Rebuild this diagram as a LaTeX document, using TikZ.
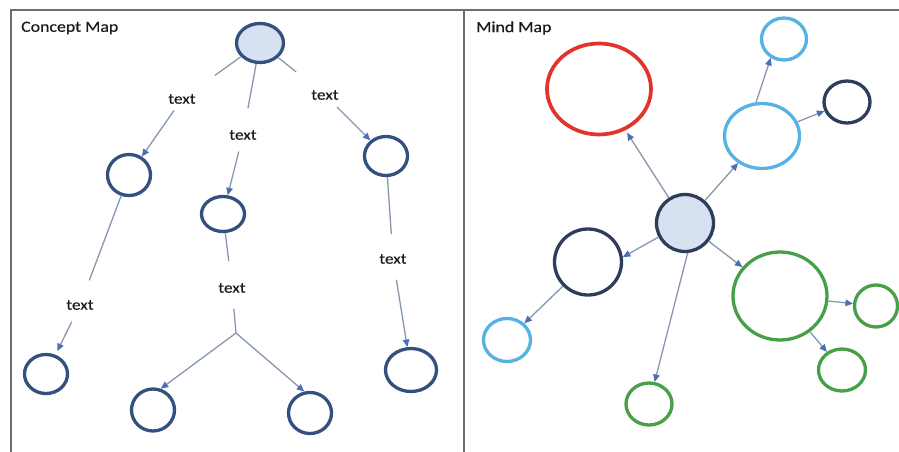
\documentclass[tikz,border=0pt]{standalone}
\usepackage{fontspec}
\setmainfont{Carlito}
\newfontfamily\lblfont{Carlito}[FakeStretch=1.15,FakeBold=0.3]
\usetikzlibrary{arrows.meta,shapes.geometric}
\definecolor{cblue}{HTML}{34507F}
\definecolor{cfill}{HTML}{D8E1F1}
\definecolor{dnavy}{HTML}{2E3D5A}
\definecolor{lblue}{HTML}{55B2E2}
\definecolor{mred}{HTML}{E0342C}
\definecolor{mgreen}{HTML}{47A047}
\definecolor{linecol}{HTML}{8797B2}
\definecolor{tipcol}{HTML}{4A70B0}
\definecolor{framecol}{HTML}{6E6E6E}
\definecolor{txtcol}{HTML}{1A1A1A}
\tikzset{
  sz/.style 2 args={minimum width=#1pt, minimum height=#2pt},
  ell/.style={ellipse, draw, inner sep=0pt, line width=3.3pt},
  cnode/.style={ell, draw=cblue},
  lbl/.style={inner sep=0pt, font=\lblfont\fontsize{15pt}{17pt}\selectfont, text=txtcol},
  ttl/.style={inner sep=0pt, anchor=west, font=\lblfont\fontsize{15.5pt}{18pt}\selectfont, text=txtcol},
  conn/.style={draw=linecol, line width=1.3pt},
  arr/.style={conn, -{Triangle[length=7.5pt,width=6.5pt,color=tipcol]}},
  frame/.style={draw=framecol, line width=2pt}
}
\begin{document}
\begin{tikzpicture}[x=1pt,y=-1pt]
\useasboundingbox (0,0) rectangle (899,452);
\fill[white] (0,0) rectangle (899,452);
% frame
\draw[frame] (11,452) -- (11,10) -- (899,10);
\draw[frame] (464,10) -- (464,452);
% titles
\node[ttl] (t1title) at (21,28) {Concept Map};
\node[ttl] (t2title) at (476,28) {Mind Map};

% ---------- Concept map ----------
\node[cnode, fill=cfill, sz={47}{39}] (ctop) at (260,43) {};
\node[cnode, sz={43}{41}] (cl) at (129,175) {};
\node[cnode, sz={43}{35}] (cm) at (223,214) {};
\node[cnode, sz={43}{39}] (cr) at (386,156) {};
\node[cnode, sz={43}{39}] (cbl) at (46,374) {};
\node[cnode, sz={43}{42}] (cbml) at (153,410) {};
\node[cnode, sz={43}{41}] (cbmr) at (310,413) {};
\node[cnode, sz={51}{43}] (cbr) at (411,370) {};

\node[lbl] (l1) at (182,99) {text};
\node[lbl] (l2) at (243,135) {text};
\node[lbl] (l3) at (325,95) {text};
\node[lbl] (l4) at (80,305) {text};
\node[lbl] (l5) at (232,288) {text};
\node[lbl] (l6) at (393,259) {text};
\coordinate (split) at (236,333);

\draw[conn, shorten >=32pt] (ctop) -- (l1);
\draw[arr, shorten <=8pt] (l1) -- (cl);
\draw[conn, shorten >=22pt] (ctop) -- (l2);
\draw[arr, shorten <=12pt] (l2) -- (cm);
\draw[conn, shorten >=29pt] (ctop) -- (l3);
\draw[arr, shorten <=10pt] (l3) -- (cr);
\draw[conn, shorten >=21pt] (cl) -- (l4);
\draw[arr, shorten <=13pt, shorten >=4pt] (l4) -- (cbl);
\draw[conn, shorten >=22pt] (cm) -- (l5);
\draw[conn, shorten <=16pt] (l5) -- (split);
\draw[arr] (split) -- (cbml.70);
\draw[arr] (split) -- (cbmr.105);
\draw[conn, shorten >=20pt] (cr) -- (l6);
\draw[arr, shorten <=16pt] (l6) -- (cbr);

% ---------- Mind map ----------
\node[ell, draw=mred, line width=3.7pt, sz={104}{91}] (mr) at (599,89) {};
\node[ell, draw=lblue, sz={45}{42}] (mtb) at (784,39) {};
\node[ell, draw=lblue, sz={75}{65}] (mmb) at (762,136) {};
\node[ell, draw=dnavy, sz={46}{42}] (mdk) at (847,102) {};
\node[ell, draw=dnavy, fill=cfill, sz={57}{57}] (mc) at (685,223) {};
\node[ell, draw=dnavy, sz={67}{66}] (mdm) at (588,262) {};
\node[ell, draw=lblue, sz={47}{43}] (mlb) at (507,340) {};
\node[ell, draw=mgreen, sz={94}{88}] (mbg) at (780,296) {};
\node[ell, draw=mgreen, sz={43}{42}] (mgr) at (876,306) {};
\node[ell, draw=mgreen, sz={47}{42}] (mgl) at (842,370) {};
\node[ell, draw=mgreen, sz={46}{42}] (mgb) at (649,404) {};

\draw[arr, shorten >=3pt] (mc) -- (mr);
\draw[arr] (mc) -- (mmb);
\draw[arr] (mmb.100) -- (mtb.235);
\draw[arr] (mmb) -- (mdk);
\draw[arr] (mc.208) -- (mdm.8);
\draw[arr] (mdm) -- (mlb);
\draw[arr] (mc.275) -- (mgb);
\draw[arr] (mc) -- (mbg);
\draw[arr] (mbg) -- (mgr);
\draw[arr] (mbg) -- (mgl);
\end{tikzpicture}
\end{document}
